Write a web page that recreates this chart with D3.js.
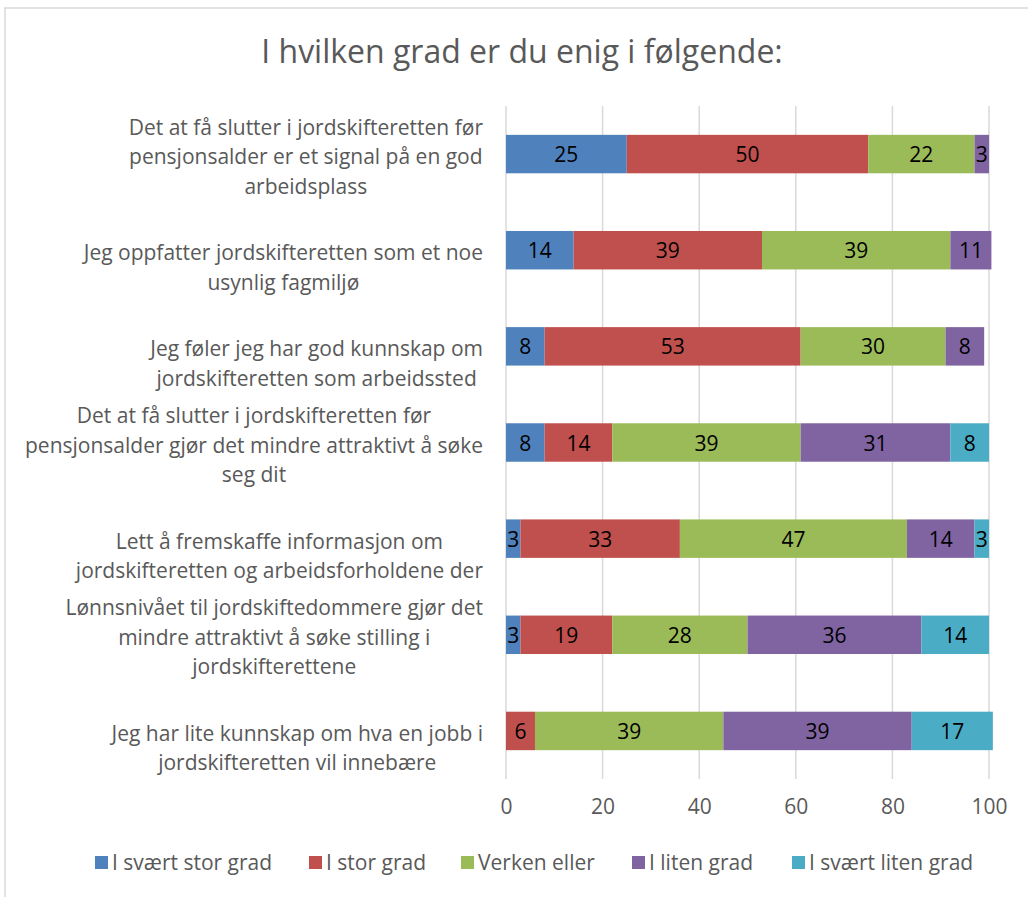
<!DOCTYPE html>
<html>

<head>
    <meta charset="utf-8">
    <script src="https://cdn.jsdelivr.net/npm/d3@7"></script>
    <style>
        body { margin: 0; background: #fff; }
        text { font-family: "Open Sans", Lato, sans-serif; }
    </style>
</head>

<body>
    <div id="chart"></div>

    <script>

        // questions, top to bottom (each line as in the original)
        var questions = [
            ["Det at få slutter i jordskifteretten før", "pensjonsalder er et signal på en god", "arbeidsplass"],
            ["Jeg oppfatter jordskifteretten som et noe", "usynlig fagmiljø"],
            ["Jeg føler jeg har god kunnskap om", "jordskifteretten som arbeidssted"],
            ["Det at få slutter i jordskifteretten før", "pensjonsalder gjør det mindre attraktivt å søke", "seg dit"],
            ["Lett å fremskaffe informasjon om", "jordskifteretten og arbeidsforholdene der"],
            ["Lønnsnivået til jordskiftedommere gjør det", "mindre attraktivt å søke stilling i", "jordskifterettene"],
            ["Jeg har lite kunnskap om hva en jobb i", "jordskifteretten vil innebære"]
        ];

        var seriesNames = ["I svært stor grad", "I stor grad", "Verken eller", "I liten grad", "I svært liten grad"];
        var seriesColors = ["#4F81BD", "#C0504D", "#9BBB59", "#8064A2", "#4BACC6"];

        // one array per series, same order as questions (bar lengths as drawn)
        var svaertStor  = [25, 14, 8, 8, 3, 3, 0];
        var stor        = [50, 39, 53, 14, 33, 19, 6];
        var verken      = [22, 39, 30, 39, 47, 28, 39];
        var liten       = [3, 8.5, 8, 31, 14, 36, 39];
        var svaertLiten = [0, 0, 0, 8, 3, 14, 16.8];

        // printed labels for the purple series (row 2 label does not match its length in the original)
        var litenLabels = [3, 11, 8, 31, 14, 36, 39];

        var xTicks = [0, 20, 40, 60, 80, 100];

        var width = 1028,
            height = 897;

        var margin = { top: 106, right: 39, bottom: 118, left: 506 };

        var fs = 21;

        var svg = d3.select("#chart")
            .append("svg")
            .attr("width", width)
            .attr("height", height);

        // chart frame
        svg.append("rect")
            .attr("x", 5)
            .attr("y", 8)
            .attr("width", width + 10)
            .attr("height", height + 10)
            .attr("fill", "#fff")
            .attr("stroke", "#d9d9d9")
            .attr("stroke-width", 1.5);

        svg.append("text")
            .attr("x", 522)
            .attr("y", 50)
            .attr("text-anchor", "middle")
            .attr("dominant-baseline", "central")
            .style("font-size", "32px")
            .attr("fill", "#595959")
            .text("I hvilken grad er du enig i følgende:");

        var x = d3.scaleLinear()
            .domain([0, 100])
            .range([margin.left, width - margin.right - 0]);

        var y = d3.scaleBand()
            .domain(d3.range(questions.length))
            .range([margin.top, height - margin.bottom])
            .paddingInner(0.6)
            .paddingOuter(0.3);

        // rows -> stacked table
        var rows = questions.map(function (q, i) {
            return {
                idx: i,
                s0: svaertStor[i],
                s1: stor[i],
                s2: verken[i],
                s3: liten[i],
                s4: svaertLiten[i]
            };
        });

        var keys = ["s0", "s1", "s2", "s3", "s4"];
        var stacked = d3.stack().keys(keys)(rows);

        function labelFor(key, d) {
            if (key === "s3") return litenLabels[d.data.idx];
            return Math.round(d[1] - d[0]);
        }

        // gridlines
        svg.append("g")
            .selectAll("line")
            .data(xTicks)
            .join("line")
            .attr("x1", d => x(d))
            .attr("x2", d => x(d))
            .attr("y1", margin.top)
            .attr("y2", height - margin.bottom)
            .attr("stroke", "#d9d9d9")
            .attr("stroke-width", 1.5);

        var xAxis = svg.append("g")
            .attr("transform", "translate(0," + (height - margin.bottom) + ")")
            .call(d3.axisBottom(x).tickValues(xTicks).tickSize(0).tickPadding(20));
        xAxis.select(".domain").remove();
        xAxis.selectAll("text")
            .style("font-size", fs + "px")
            .attr("fill", "#595959")
            .attr("font-family", null);

        var series = svg.append("g")
            .selectAll("g")
            .data(stacked)
            .join("g")
            .attr("fill", (d, i) => seriesColors[i]);

        series.selectAll("rect")
            .data(d => d.filter(p => p[1] - p[0] > 0))
            .join("rect")
            .attr("x", d => x(d[0]))
            .attr("width", d => x(d[1]) - x(d[0]))
            .attr("y", d => y(d.data.idx))
            .attr("height", y.bandwidth());

        series.each(function (s) {
            d3.select(this).selectAll("text")
                .data(s.filter(p => p[1] - p[0] > 0))
                .join("text")
                .attr("x", d => (x(d[0]) + x(d[1])) / 2)
                .attr("y", d => y(d.data.idx) + y.bandwidth() / 2)
                .attr("text-anchor", "middle")
                .attr("dominant-baseline", "central")
                .style("font-size", fs + "px")
                .attr("fill", "#000")
                .text(d => labelFor(s.key, d));
        });

        // category labels: block right-aligned, lines centred in the block
        var labelRight = 483,
            lineHeight = 29.5;

        var labels = svg.append("g")
            .selectAll("g")
            .data(questions)
            .join("g");

        labels.each(function (lines, i) {
            var g = d3.select(this);
            var cy = y(i) + y.bandwidth() / 2 + 2 - Math.floor((lines.length - 1) / 2) * lineHeight;
            var t = g.selectAll("text")
                .data(lines)
                .join("text")
                .attr("y", (d, j) => cy + j * lineHeight)
                .attr("text-anchor", "middle")
                .attr("dominant-baseline", "central")
                .style("font-size", fs + "px")
                .attr("fill", "#595959")
                .text(d => d);
            var maxW = d3.max(t.nodes(), n => n.getComputedTextLength());
            t.attr("x", labelRight - maxW / 2);
        });

        // legend
        var legendX = [95, 309, 461, 632, 792];
        var legend = svg.append("g")
            .selectAll("g")
            .data(seriesNames)
            .join("g")
            .attr("transform", (d, i) => "translate(" + legendX[i] + ",862)");

        legend.append("rect")
            .attr("x", 0)
            .attr("y", -6)
            .attr("width", 13)
            .attr("height", 13)
            .attr("fill", (d, i) => seriesColors[i]);

        legend.append("text")
            .attr("x", 17)
            .attr("y", 0)
            .attr("dominant-baseline", "central")
            .style("font-size", fs + "px")
            .attr("fill", "#595959")
            .text(d => d);

    </script>
</body>

</html>
